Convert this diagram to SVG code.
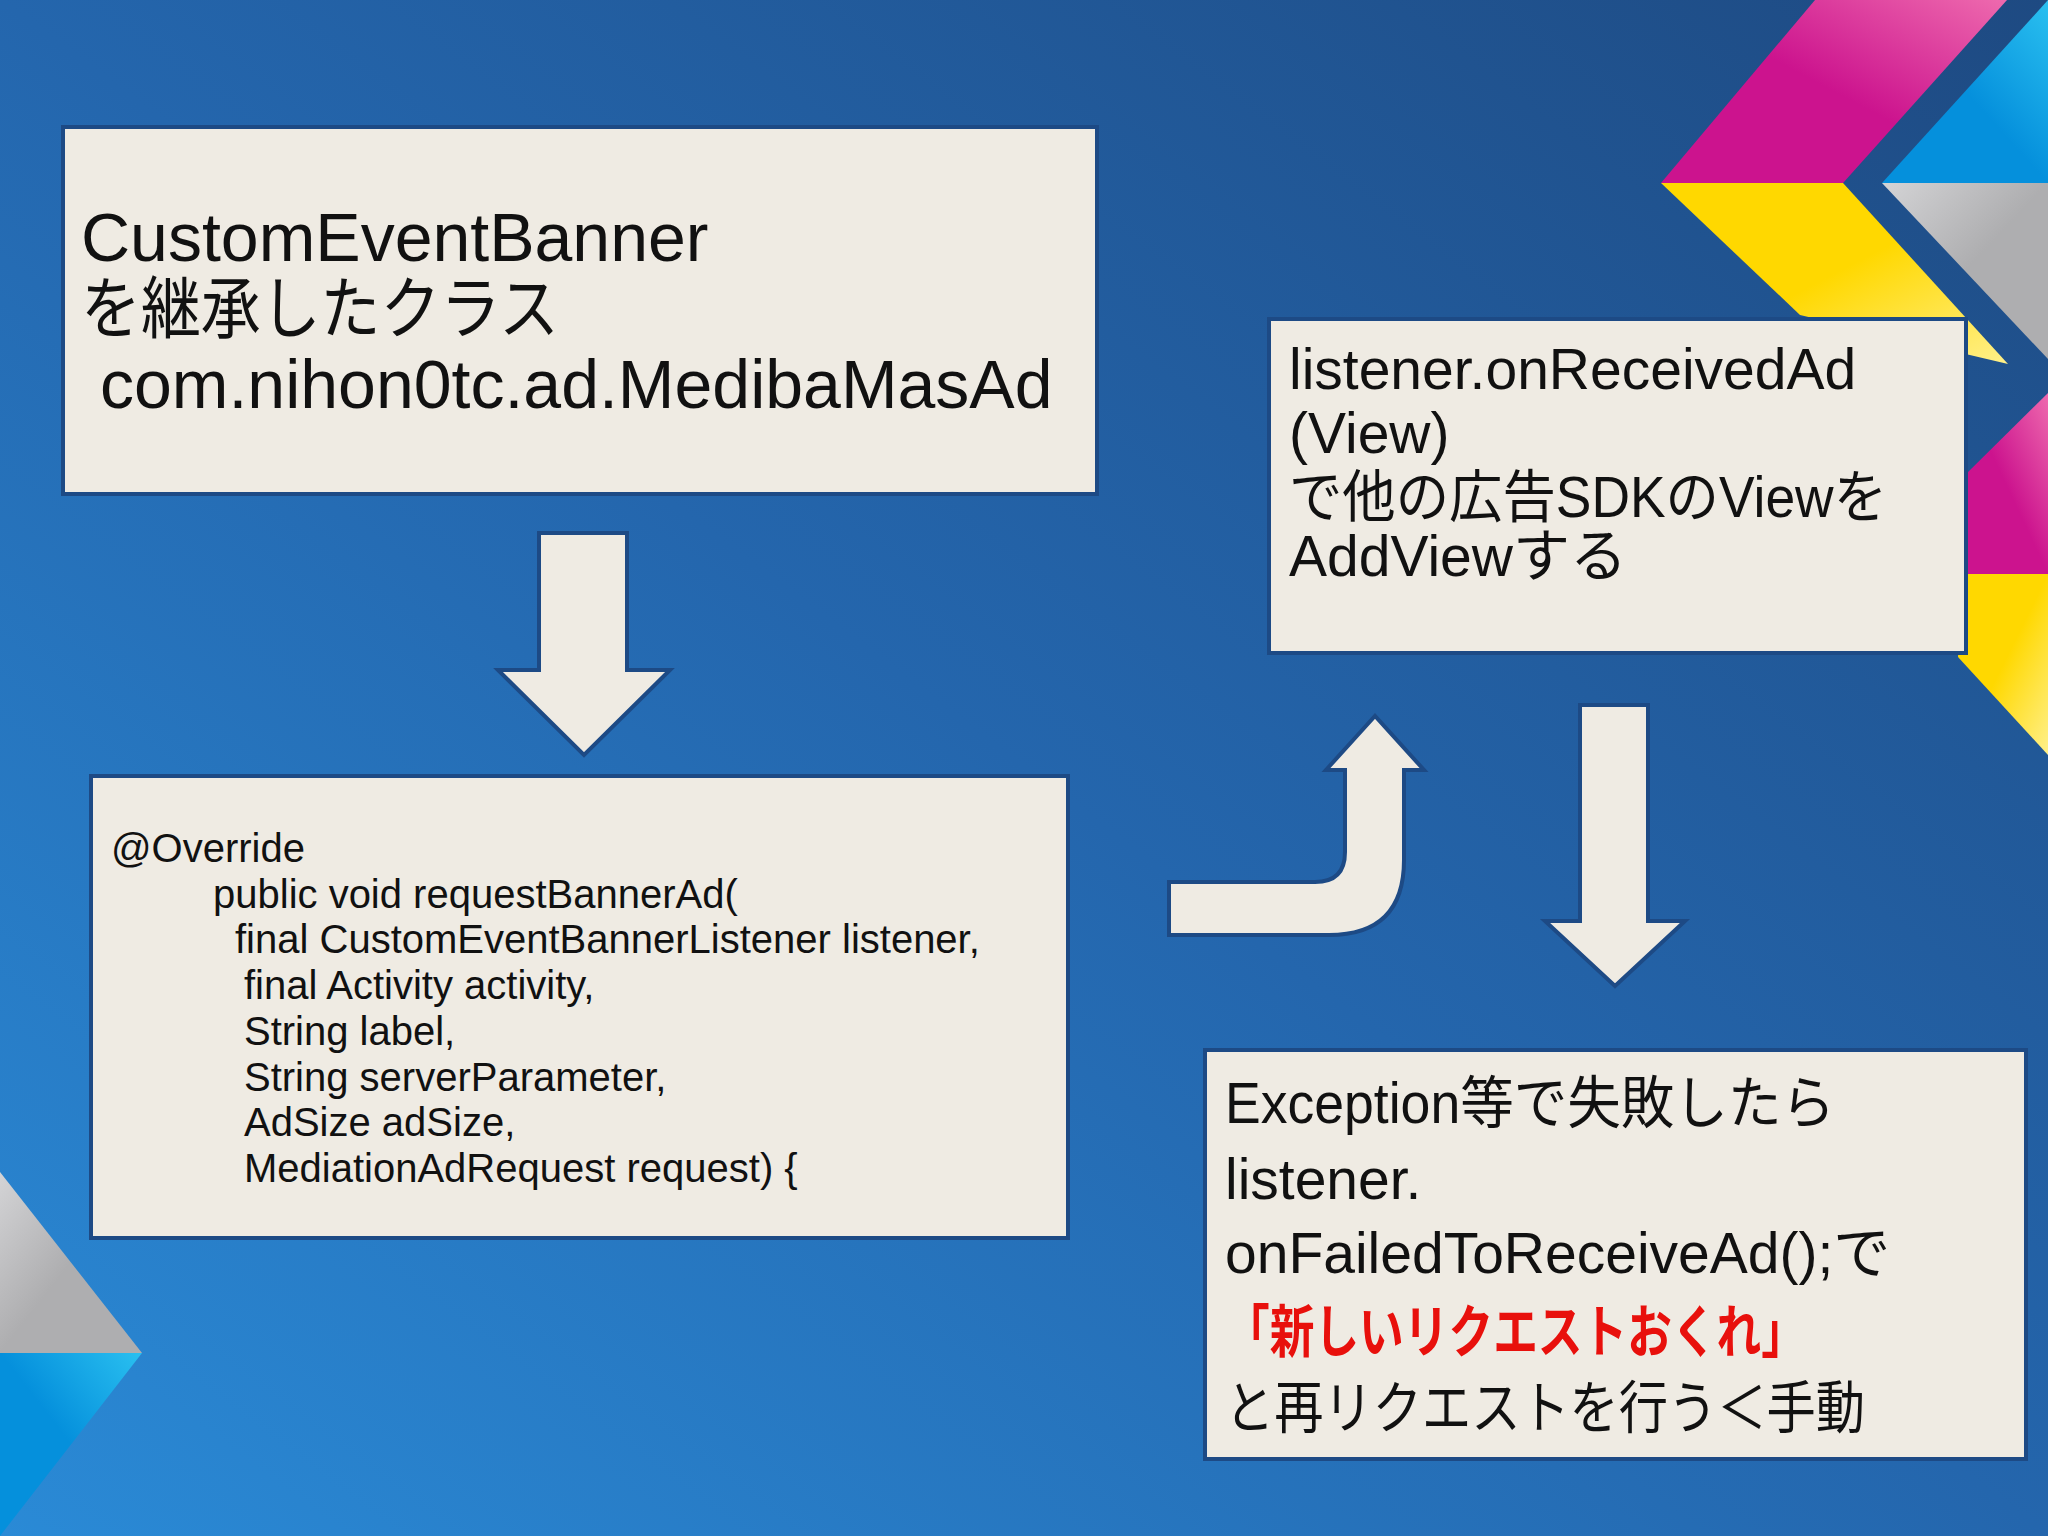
<svg xmlns="http://www.w3.org/2000/svg" width="2048" height="1536" viewBox="0 0 2048 1536">
<defs>
<linearGradient id="bg" x1="1" y1="0" x2="0" y2="1"><stop offset="0" stop-color="#1e4a82"/><stop offset="0.5" stop-color="#2466ad"/><stop offset="1" stop-color="#2a8ad6"/></linearGradient>
<linearGradient id="mag" x1="0" y1="1" x2="1" y2="0"><stop offset="0.5" stop-color="#cc138e"/><stop offset="1" stop-color="#ee6aae"/></linearGradient>
<linearGradient id="yel" x1="0" y1="0" x2="1" y2="1"><stop offset="0.5" stop-color="#ffd800"/><stop offset="1" stop-color="#fff08a"/></linearGradient>
<linearGradient id="blu" x1="0" y1="1" x2="1" y2="0"><stop offset="0.5" stop-color="#0590dc"/><stop offset="1" stop-color="#2ac0f0"/></linearGradient>
<linearGradient id="gry" x1="0" y1="0" x2="1" y2="1"><stop offset="0" stop-color="#d4d4d6"/><stop offset="0.5" stop-color="#aeaeb0"/></linearGradient>
<style>
.box{fill:#efebe3;stroke:#1d4a85;stroke-width:4}
.arr{fill:#efebe3;stroke:#1d4a85;stroke-width:4}
text{font-family:"Liberation Sans","Noto Sans CJK JP",sans-serif;fill:#111}
.big{font-size:68px}
.mid{font-size:57px}
.code{font-size:40px}
.b4{font-size:57px}
</style>
</defs>
<rect width="2048" height="1536" fill="url(#bg)"/>
<g id="decor">
<polygon points="1815,0 2007,0 1843,183 1661,183" fill="url(#mag)"/>
<polygon points="1661,183 1843,183 2008,364 1800,315" fill="url(#yel)"/>
<polygon points="1882,183 2048,0 2048,183" fill="url(#blu)"/>
<polygon points="1882,183 2048,183 2048,359" fill="url(#gry)"/>
<polygon points="1963,477 2048,393 2048,574 1963,574" fill="url(#mag)"/>
<polygon points="1963,574 2048,574 2048,755 1958,657" fill="url(#yel)"/>
<polygon points="0,1172 142,1353 0,1353" fill="url(#gry)"/>
<polygon points="0,1353 142,1353 0,1536" fill="url(#blu)"/>
</g>
<g id="connectors">
<polygon class="arr" points="539,533 627,533 627,670 670,670 584,755 498,670 539,670"/>
<path class="arr" d="M1169,882 L1315,882 Q1345,882 1345,852 L1345,770 L1326,770 L1375,716 L1424,770 L1404,770 L1404,860 Q1404,935 1329,935 L1169,935 Z"/>
<polygon class="arr" points="1580,705 1648,705 1648,921 1685,921 1615,986 1545,921 1580,921"/>
</g>
<g id="box1">
<rect class="box" x="63" y="127" width="1034" height="367"/>
<text class="big" x="81" y="261">CustomEventBanner</text>
<text class="big" x="81" y="333" textLength="478" lengthAdjust="spacingAndGlyphs">を継承したクラス</text>
<text class="big" x="100" y="408">com.nihon0tc.ad.MedibaMasAd</text>
</g>
<g id="box2">
<rect class="box" x="91" y="776" width="977" height="462"/>
<text class="code" x="111" y="862">@Override</text>
<text class="code" x="213" y="908">public void requestBannerAd(</text>
<text class="code" x="235" y="953">final CustomEventBannerListener listener,</text>
<text class="code" x="244" y="999">final Activity activity,</text>
<text class="code" x="244" y="1045">String label,</text>
<text class="code" x="244" y="1091">String serverParameter,</text>
<text class="code" x="244" y="1136">AdSize adSize,</text>
<text class="code" x="244" y="1182">MediationAdRequest request) {</text>
</g>
<g id="box3">
<rect class="box" x="1269" y="319" width="697" height="334"/>
<text class="mid" x="1289" y="389">listener.onReceivedAd</text>
<text class="mid" x="1289" y="453">(View)</text>
<text class="mid" x="1289" y="517" textLength="598" lengthAdjust="spacingAndGlyphs">で他の広告SDKのViewを</text>
<text class="mid" x="1289" y="576">AddViewする</text>
</g>
<g id="box4">
<rect class="box" x="1205" y="1050" width="821" height="409"/>
<text class="b4" x="1225" y="1123" textLength="610" lengthAdjust="spacingAndGlyphs">Exception等で失敗したら</text>
<text class="b4" x="1225" y="1199">listener.</text>
<text class="b4" x="1225" y="1273">onFailedToReceiveAd();で</text>
<text class="b4" x="1225" y="1352" textLength="581" lengthAdjust="spacingAndGlyphs" style="fill:#e8100c;font-weight:bold">「新しいリクエストおくれ」</text>
<text class="b4" x="1225" y="1428" textLength="640" lengthAdjust="spacingAndGlyphs">と再リクエストを行う＜手動</text>
</g>
</svg>
